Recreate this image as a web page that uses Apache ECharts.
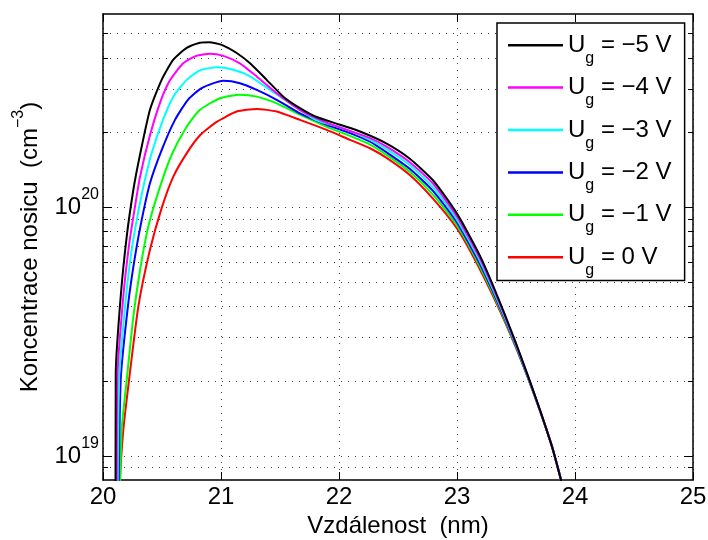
<!DOCTYPE html>
<html>
<head>
<meta charset="utf-8">
<script src="https://cdn.jsdelivr.net/npm/echarts@6.0.0/dist/echarts.min.js"></script>
<style>
html,body{margin:0;padding:0;background:#fff;}
#chart{width:708px;height:540px;}
</style>
</head>
<body>
<div id="chart"></div>
<script>
// ---- data ----
const seriesNames = ['Ug = −5 V','Ug = −4 V','Ug = −3 V','Ug = −2 V','Ug = −1 V','Ug = 0 V'];
const legendVoltages = ['−5','−4','−3','−2','−1','0'];
const seriesColors = ['#000000','#ff00ff','#00ffff','#0000ff','#00ff00','#ff0000'];

const xTicks = [20, 21, 22, 23, 24, 25];
const yLabelValues = [1e19, 1e20];
const yTickValues = [9e18, 1e19, 2e19, 3e19, 4e19, 5e19, 6e19, 7e19, 8e19, 9e19, 1e20, 2e20, 3e20, 4e20, 5e20, 6e20];

const xM5 = [20.106,20.108,20.150,20.201,20.257,20.308,20.398,20.497,20.596,20.709,20.822,20.900,21.006,21.133,21.246,21.387,21.528,21.669,21.811,22.008,22.178,22.4,22.6,22.8,23.0,23.2,23.4,23.6,23.8,23.9];
const yM5 = [4.0e18,2.15e19,4.38e19,7.62e19,1.175e20,1.58e20,2.47e20,3.26e20,3.93e20,4.38e20,4.60e20,4.62e20,4.51e20,4.18e20,3.80e20,3.26e20,2.79e20,2.51e20,2.31e20,2.15e20,2.02e20,1.81e20,1.57e20,1.28e20,9.44e19,6.31e19,3.76e19,2.11e19,1.11e19,7.41e18];

const xM4 = [20.115,20.121,20.172,20.223,20.271,20.314,20.398,20.490,20.570,20.680,20.790,20.907,21.020,21.160,21.300,21.472,21.669,21.867,22.093,22.263,22.4,22.6,22.8,23.0,23.2,23.4,23.6,23.8,23.9];
const yM4 = [4.0e18,2.02e19,4.38e19,7.18e19,1.007e20,1.33e20,1.95e20,2.69e20,3.26e20,3.80e20,4.07e20,4.15e20,4.07e20,3.80e20,3.37e20,2.88e20,2.47e20,2.22e20,2.03e20,1.90e20,1.76e20,1.52e20,1.24e20,9.18e19,6.15e19,3.71e19,2.10e19,1.11e19,7.41e18];

const xM3 = [20.122,20.136,20.195,20.243,20.291,20.342,20.410,20.510,20.596,20.709,20.822,20.964,21.104,21.246,21.415,21.585,21.811,22.036,22.263,22.4,22.6,22.8,23.0,23.2,23.4,23.6,23.8,23.9];
const yM3 = [4.0e18,2.02e19,4.38e19,6.75e19,9.18e19,1.21e20,1.64e20,2.26e20,2.79e20,3.26e20,3.56e20,3.66e20,3.58e20,3.37e20,2.97e20,2.62e20,2.24e20,2.08e20,1.87e20,1.72e20,1.48e20,1.20e20,8.93e19,6.00e19,3.66e19,2.09e19,1.11e19,7.41e18];

const xM2 = [20.127,20.150,20.214,20.271,20.328,20.398,20.497,20.610,20.720,20.836,21.019,21.161,21.303,21.472,21.669,21.896,22.093,22.263,22.4,22.6,22.8,23.0,23.2,23.4,23.6,23.8,23.9];
const yM2 = [4.0e18,2.02e19,4.11e19,6.34e19,8.91e19,1.25e20,1.70e20,2.25e20,2.71e20,3.02e20,3.23e20,3.16e20,2.97e20,2.71e20,2.39e20,2.15e20,1.99e20,1.84e20,1.67e20,1.43e20,1.16e20,8.69e19,5.85e19,3.61e19,2.08e19,1.11e19,7.41e18];

const xM1 = [20.132,20.158,20.201,20.257,20.314,20.384,20.483,20.585,20.709,20.822,20.992,21.161,21.303,21.472,21.669,21.896,22.093,22.263,22.4,22.6,22.8,23.0,23.2,23.4,23.6,23.8,23.9];
const yM1 = [4.0e18,1.27e19,2.02e19,3.63e19,5.60e19,8.38e19,1.21e20,1.64e20,2.11e20,2.47e20,2.75e20,2.84e20,2.79e20,2.62e20,2.36e20,2.11e20,1.94e20,1.79e20,1.63e20,1.39e20,1.12e20,8.45e19,5.70e19,3.56e19,2.07e19,1.11e19,7.41e18];

const x0 = [20.135,20.144,20.172,20.214,20.299,20.398,20.497,20.596,20.709,20.822,20.964,21.133,21.303,21.472,21.669,21.896,22.093,22.263,22.4,22.6,22.8,23.0,23.2,23.4,23.6,23.8,23.9];
const y0 = [4.0e18,7.94e18,1.27e19,1.90e19,3.98e19,6.75e19,9.93e19,1.33e20,1.65e20,1.95e20,2.21e20,2.43e20,2.49e20,2.43e20,2.25e20,2.05e20,1.87e20,1.73e20,1.585e20,1.35e20,1.08e20,8.22e19,5.56e19,3.51e19,2.07e19,1.11e19,7.41e18];

const seriesX = [xM5, xM4, xM3, xM2, xM1, x0];
const seriesY = [yM5, yM4, yM3, yM2, yM1, y0];

// ---- chart ----
const FONT = '"Liberation Sans", Arial, Helvetica, sans-serif';
const chart = echarts.init(document.getElementById('chart'), null, {renderer: 'canvas'});

const dotted = {color: '#444', width: 1, type: [1, 6]};
const yMin = 8e18, yMax = 6e20;

function yAxisBase(pos, tickVals, tickLen, lineShow) {
  return {
    type: 'log', logBase: 10, min: yMin, max: yMax, position: pos,
    axisLine: {show: lineShow, lineStyle: {color: '#000', width: 1.5}},
    axisTick: {show: true, inside: true, length: tickLen, customValues: tickVals, lineStyle: {color: '#000', width: 1}},
    axisLabel: {show: false},
    splitLine: {show: false},
    minorTick: {show: false}
  };
}

const yMain = yAxisBase('left', yTickValues, 5, true);
yMain.axisLabel = {
  show: true, customValues: yLabelValues, margin: 4,
  formatter: v => '10{sup|' + Math.round(Math.log10(v)) + '}',
  color: '#000', fontFamily: FONT, fontSize: 24,
  rich: {sup: {fontFamily: FONT, fontSize: 16, color: '#000', padding: [0, 0, 25, 0]}}
};
yMain.splitLine = {show: true, lineStyle: dotted};
yMain.name = 'Koncentrace nosicu  (cm{sup|−3})';
yMain.nameLocation = 'middle';
yMain.nameRotate = 90;
yMain.nameGap = 54;
yMain.nameTextStyle = {color: '#000', fontFamily: FONT, fontSize: 24,
  rich: {sup: {fontFamily: FONT, fontSize: 16, color: '#000', padding: [0, 0, 22, 0]}}};

const option = {
  backgroundColor: '#fff',
  animation: false,
  grid: {left: 103, right: 15, top: 14, bottom: 60, outerBoundsMode: 'none'},
  xAxis: [
    {
      type: 'value', min: xTicks[0], max: xTicks[xTicks.length - 1], interval: 1, position: 'bottom',
      name: 'Vzdálenost  (nm)', nameLocation: 'middle', nameGap: 32,
      nameTextStyle: {color: '#000', fontFamily: FONT, fontSize: 24},
      axisLine: {show: true, lineStyle: {color: '#000', width: 1.5}},
      axisTick: {show: true, inside: true, length: 8, lineStyle: {color: '#000', width: 1}},
      axisLabel: {color: '#000', fontFamily: FONT, fontSize: 24, margin: 5},
      splitLine: {show: true, lineStyle: dotted}
    },
    {
      type: 'value', min: xTicks[0], max: xTicks[xTicks.length - 1], interval: 1, position: 'top',
      axisLine: {show: true, lineStyle: {color: '#000', width: 1.5}},
      axisTick: {show: true, inside: true, length: 8, lineStyle: {color: '#000', width: 1}},
      axisLabel: {show: false},
      splitLine: {show: false}
    }
  ],
  yAxis: [
    yMain,
    yAxisBase('left', yLabelValues, 9, false),
    yAxisBase('right', yTickValues, 5, true),
    yAxisBase('right', yLabelValues, 9, false)
  ],
  legend: {
    orient: 'vertical', left: 497, top: 23,
    padding: [1, 13, 2, 11], itemGap: 0,
    itemWidth: 55, itemHeight: 2.5, icon: 'rect',
    backgroundColor: '#fff', borderColor: '#000', borderWidth: 1.5, borderRadius: 0,
    data: seriesNames.slice(),
    formatter: name => '{b|U}{sub|g}{b| = ' + legendVoltages[seriesNames.indexOf(name)] + ' V}',
    textStyle: {color: '#000', fontFamily: FONT, fontSize: 24, lineHeight: 42.4,
      rich: {
        b: {fontFamily: FONT, fontSize: 24, color: '#000', lineHeight: 42.4},
        sub: {fontFamily: FONT, fontSize: 16, color: '#000', lineHeight: 14, verticalAlign: 'bottom'}
      }}
  },
  series: []
};

// draw red first so black ends on top
for (let i = seriesNames.length - 1; i >= 0; i--) {
  option.series.push({
    name: seriesNames[i], type: 'line', xAxisIndex: 0, yAxisIndex: 0,
    data: seriesX[i].map((x, k) => [x, seriesY[i][k]]),
    showSymbol: false, symbol: 'none', clip: true,
    smooth: 0.2,
    color: seriesColors[i],
    lineStyle: {color: seriesColors[i], width: 2},
    itemStyle: {color: seriesColors[i]}
  });
}

chart.setOption(option);
</script>
</body>
</html>
